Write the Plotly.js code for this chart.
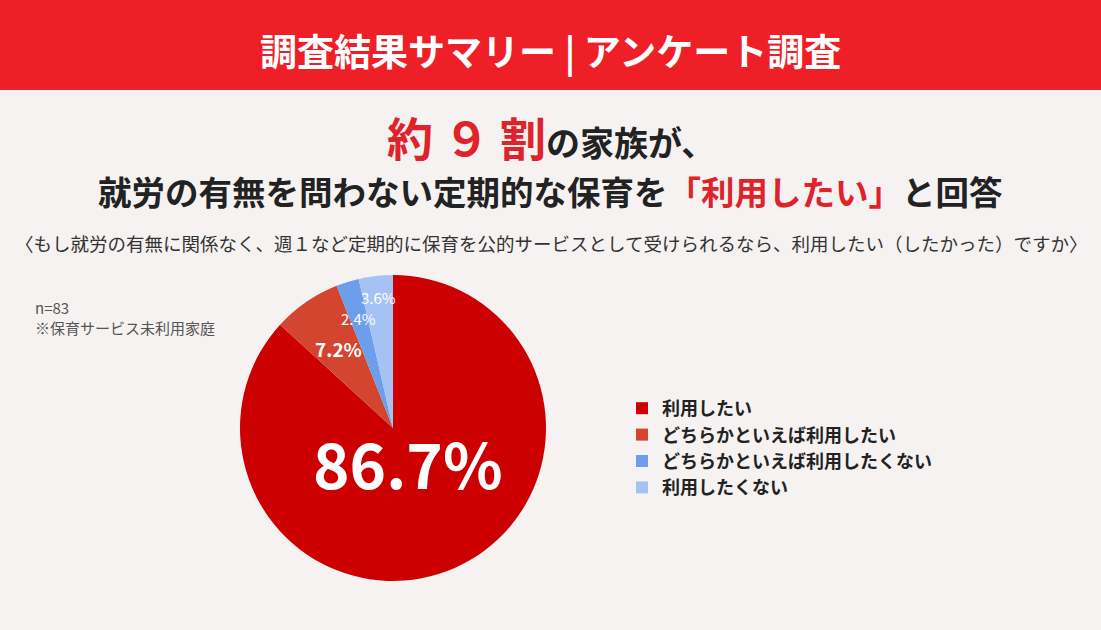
<!DOCTYPE html>
<html>
<head>
<meta charset="utf-8">
<script src="https://cdn.plot.ly/plotly-3.0.1.min.js"></script>
<style>
html,body{margin:0;padding:0;background:#f5f2f1;}
#chart{width:1101px;height:630px;}
</style>
</head>
<body>
<div id="chart"></div>
<script>
const categories = ["利用したい", "どちらかといえば利用したい", "どちらかといえば利用したくない", "利用したくない"];
const values = [86.7, 7.2, 2.4, 3.6];
const labelTexts = ["86.7%", "7.2%", "2.4%", "3.6%"];
const colors = ["#cc0000", "#d4452f", "#6d9eeb", "#a4c2f4"];

const FONT = '"Noto Sans CJK JP", "Noto Sans", sans-serif';

// pie geometry (pixels)
const W = 1101, H = 630;
const CX = 393, CY = 428, R = 153;

const trace = {
  type: "pie",
  labels: categories,
  values: values,
  textinfo: "none",
  sort: false,
  direction: "clockwise",
  rotation: 0,
  marker: {colors: colors, line: {width: 0}},
  domain: {x: [(CX - R)/W, (CX + R)/W], y: [(H - CY - R)/H, (H - CY + R)/H]},
  hoverinfo: "label+percent"
};

// slice labels placed along each slice's mid-angle (computed from the data)
const labelRadius = [0.24, 0.63, 0.75, 0.86];
const labelSize = [62, 19, 15, 15];
const labelBold = [true, true, false, false];
const total = values.reduce((a, b) => a + b, 0);
let cum = 0;
const sliceAnnotations = values.map((v, i) => {
  const mid = (cum + v / 2) / total;
  cum += v;
  const ang = mid * 2 * Math.PI;
  const px = CX + Math.sin(ang) * R * labelRadius[i];
  const py = CY - Math.cos(ang) * R * labelRadius[i];
  return {
    text: labelBold[i] ? "<b>" + labelTexts[i] + "</b>" : labelTexts[i],
    xref: "paper", yref: "paper", x: px / W, y: 1 - py / H,
    xanchor: "center", yanchor: "middle", showarrow: false,
    font: {family: FONT, size: labelSize[i], color: "#ffffff"}
  };
});

const layout = {
  width: W, height: H,
  margin: {l: 0, r: 0, t: 0, b: 0},
  paper_bgcolor: "#f5f2f1",
  plot_bgcolor: "#f5f2f1",
  font: {family: FONT, color: "#222222"},
  showlegend: true,
  legend: {
    x: 622/W, y: 1 - 390/H, xanchor: "left", yanchor: "top",
    font: {family: FONT, size: 18, color: "#222222", weight: 700},
    bgcolor: "rgba(0,0,0,0)", traceorder: "normal"
  },
  shapes: [
    {type: "rect", xref: "paper", yref: "paper", x0: 0, x1: 1, y0: 1 - 90/H, y1: 1, fillcolor: "#ee1f26", line: {width: 0}, layer: "below"}
  ],
  annotations: [
    {text: "<b>調査結果サマリー | アンケート調査</b>", xref: "paper", yref: "paper", x: 0.5, y: 1 - 50/H, xanchor: "center", yanchor: "middle", showarrow: false, font: {family: FONT, size: 37, color: "#ffffff"}},
    {text: "<b><span style='color:#e0232a;font-size:46px'>約 ９ 割</span>の家族が、</b>", xref: "paper", yref: "paper", x: 0.5, y: 1 - 136/H, xanchor: "center", yanchor: "middle", showarrow: false, font: {family: FONT, size: 34, color: "#222222"}},
    {text: "<b>就労の有無を問わない定期的な保育を<span style='color:#e0232a'>「利用したい」</span>と回答</b>", xref: "paper", yref: "paper", x: 0.5, y: 1 - 190/H, xanchor: "center", yanchor: "middle", showarrow: false, font: {family: FONT, size: 33.5, color: "#222222"}},
    {text: "〈もし就労の有無に関係なく、週１など定期的に保育を公的サービスとして受けられるなら、利用したい（したかった）ですか〉", xref: "paper", yref: "paper", x: 0.5, y: 1 - 243/H, xanchor: "center", yanchor: "middle", showarrow: false, font: {family: FONT, size: 18.5, color: "#333333"}},
    {text: "n=83<br>※保育サービス未利用家庭", xref: "paper", yref: "paper", x: 33/W, y: 1 - 295/H, xanchor: "left", yanchor: "top", align: "left", showarrow: false, font: {family: FONT, size: 15, color: "#555555"}}
  ].concat(sliceAnnotations)
};

Plotly.newPlot("chart", [trace], layout, {displayModeBar: false});
</script>
</body>
</html>
